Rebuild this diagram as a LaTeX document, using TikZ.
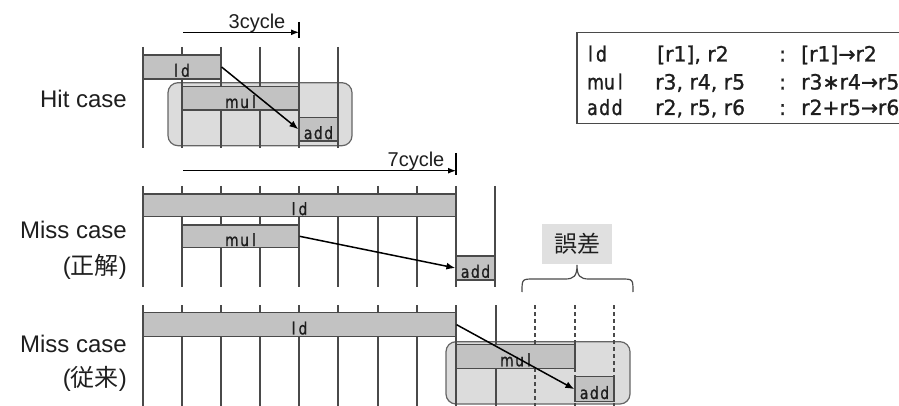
\documentclass[tikz,border=0pt]{standalone}
\usepackage{fontspec}
\setmainfont{Liberation Sans}
\newfontfamily\cjk{Noto Sans CJK JP}
\newfontfamily\gsans[FakeBold=1,FakeStretch=0.97]{DejaVu Sans}
\newfontfamily\gsansc[FakeBold=1,FakeStretch=0.82]{DejaVu Sans}
\usetikzlibrary{arrows.meta}
\definecolor{barfill}{HTML}{C2C2C2}
\definecolor{panelfill}{HTML}{DCDCDC}
\definecolor{gridc}{HTML}{4A4A4A}
\definecolor{errfill}{HTML}{E0E0E0}
\definecolor{txt}{HTML}{1E1E1E}
\tikzset{
  bar/.style={draw=gridc, line width=1.2pt, fill=barfill, inner sep=0pt,
    text height=20pt, text depth=0.5pt, text=txt,
    font=\gsansc\fontsize{17}{17}\selectfont},
  panel/.style={draw=gridc!85, line width=1.2pt, fill=panelfill, rounded corners=10pt},
  gridline/.style={gridc, line width=1.2pt},
  dgrid/.style={gridc, line width=1.2pt, dash pattern=on 4pt off 3pt},
  arr/.style={-{Latex[length=9pt,width=7pt]}, line width=1.5pt, black},
  cycarr/.style={-{Latex[length=8pt,width=6pt]}, line width=1.2pt, black},
  tick/.style={line width=1.2pt, black},
  lbl/.style={font=\fontsize{24}{28}\selectfont, anchor=base east, inner sep=0pt, text=txt},
  cyc/.style={font=\fontsize{20}{24}\selectfont, anchor=base, inner sep=0pt, text=txt},
  tcell/.style={anchor=base west, inner sep=0pt, text=txt, font=\gsans\fontsize{21}{24}\selectfont},
  tcellc/.style={anchor=base west, inner sep=0pt, text=txt, font=\gsansc\fontsize{21}{24}\selectfont},
}
\newcommand{\kk}{\kern1.5pt}
\begin{document}
\begin{tikzpicture}[x=1pt,y=-1pt]
\useasboundingbox (0,0) rectangle (899,406);

% ---------------- Hit case ----------------
\draw[panel] (168,82.7) rectangle (352,145.7);
\foreach \x in {143,182,221,260,299,338} \draw[gridline] (\x,47) -- (\x,148);
\node[bar, minimum width=78pt, minimum height=24pt] (hld) at (182,67) {l\kk\kk d};
\node[bar, minimum width=117pt, minimum height=23.3pt] (hmul) at (240.5,98.3) {m\kk u\kk\kk l};
\node[bar, minimum width=39pt, minimum height=23.5pt] (hadd) at (318.5,129.3) {a\kk d\kk d};
\draw[arr] (hld.east) -- (hadd.west);

\coordinate (c3s) at (183,32.3);
\coordinate (c3e) at (299,32.3);
\coordinate (c3t) at (299,22);
\coordinate (c3b) at (299,38.5);
\draw[cycarr] (c3s) -- (c3e);
\draw[tick] (c3t) -- (c3b);
\node[cyc] (t3) at (257,28.5) {3cycle};

\node[lbl] (lhit) at (127,107.5) {Hit case};

% ---------------- Miss case (correct) ----------------
\foreach \x in {143,182,221,260,299,338,378,417,456,495} \draw[gridline] (\x,186) -- (\x,287);
\node[bar, minimum width=313pt, minimum height=22.7pt] (m1ld) at (299.5,205.3) {l\kk\kk d};
\node[bar, minimum width=117pt, minimum height=22.7pt] (m1mul) at (240.5,236.3) {m\kk u\kk\kk l};
\node[bar, minimum width=39pt, minimum height=24pt] (m1add) at (475.5,268) {a\kk d\kk d};
\draw[arr] (m1mul.east) -- (m1add.west);

\coordinate (c7s) at (183,170.7);
\coordinate (c7e) at (456,170.7);
\coordinate (c7t) at (456,153);
\coordinate (c7b) at (456,175);
\draw[cycarr] (c7s) -- (c7e);
\draw[tick] (c7t) -- (c7b);
\node[cyc] (t7) at (416,166.7) {7cycle};

\node[lbl] (lmiss1) at (127,238) {Miss case};
\node[lbl] (lcorr) at (127,274) {({\cjk 正解})};

% error brace and label
\node[fill=errfill, minimum width=70.6pt, minimum height=40pt, inner sep=0pt,
      font=\cjk\fontsize{23}{23}\selectfont, text=txt] (err) at (577,244) {誤差};
\coordinate (bl) at (522,292);
\coordinate (br) at (633,292);
\coordinate (btip) at (577,265);
\draw[line width=1.2pt, gridc] (bl) .. controls (522,279) and (522,279) .. (534,279)
  -- (565,279) .. controls (574,279) and (577,276) .. (btip)
  .. controls (577,276) and (580,279) .. (589,279)
  -- (621,279) .. controls (633,279) and (633,279) .. (br);

% ---------------- Miss case (conventional) ----------------
\draw[panel] (446,341.7) rectangle (630,404);
\foreach \x in {143,182,221,260,299,338,378,417,456,496} \draw[gridline] (\x,305) -- (\x,406);
\foreach \x in {535,575,614} \draw[dgrid] (\x,305) -- (\x,406);
\node[bar, minimum width=313pt, minimum height=24pt] (m2ld) at (299.5,324.7) {l\kk\kk d};
\node[bar, minimum width=119pt, minimum height=24.4pt] (m2mul) at (515.5,356.5) {m\kk u\kk\kk l};
\node[bar, minimum width=39pt, minimum height=25pt] (m2add) at (594.5,389.2) {a\kk d\kk d};
\draw[arr] (m2ld.east) -- (m2add.west);

\node[lbl] (lmiss2) at (127,352) {Miss case};
\node[lbl] (lconv) at (127,386) {({\cjk 従来})};

% ---------------- instruction table ----------------
\draw[line width=1.5pt, gridc] (577,32.3) rectangle (912,123.3);
\node[tcellc] (r1a) at (588,61.5) {l\kk\kk d};
\node[tcell] (r1b) at (657,61.5) {[r1], r2};
\node[tcell] (r1c) at (779,61.5) {:};
\node[tcell] (r1d) at (801,61.5) {[r1]→r2};
\node[tcellc] (r2a) at (587,89.5) {mu\kk\kk l};
\node[tcell] (r2b) at (655,89.5) {r3, r4, r5};
\node[tcell] (r2c) at (779,89.5) {:};
\node[tcell] (r2d) at (801,89.5) {r3∗r4→r5};
\node[tcellc] (r3a) at (587,115) {a\kk d\kk d};
\node[tcell] (r3b) at (655,115) {r2, r5, r6};
\node[tcell] (r3c) at (779,115) {:};
\node[tcell] (r3d) at (801,115) {r2+r5→r6};
\end{tikzpicture}
\end{document}
